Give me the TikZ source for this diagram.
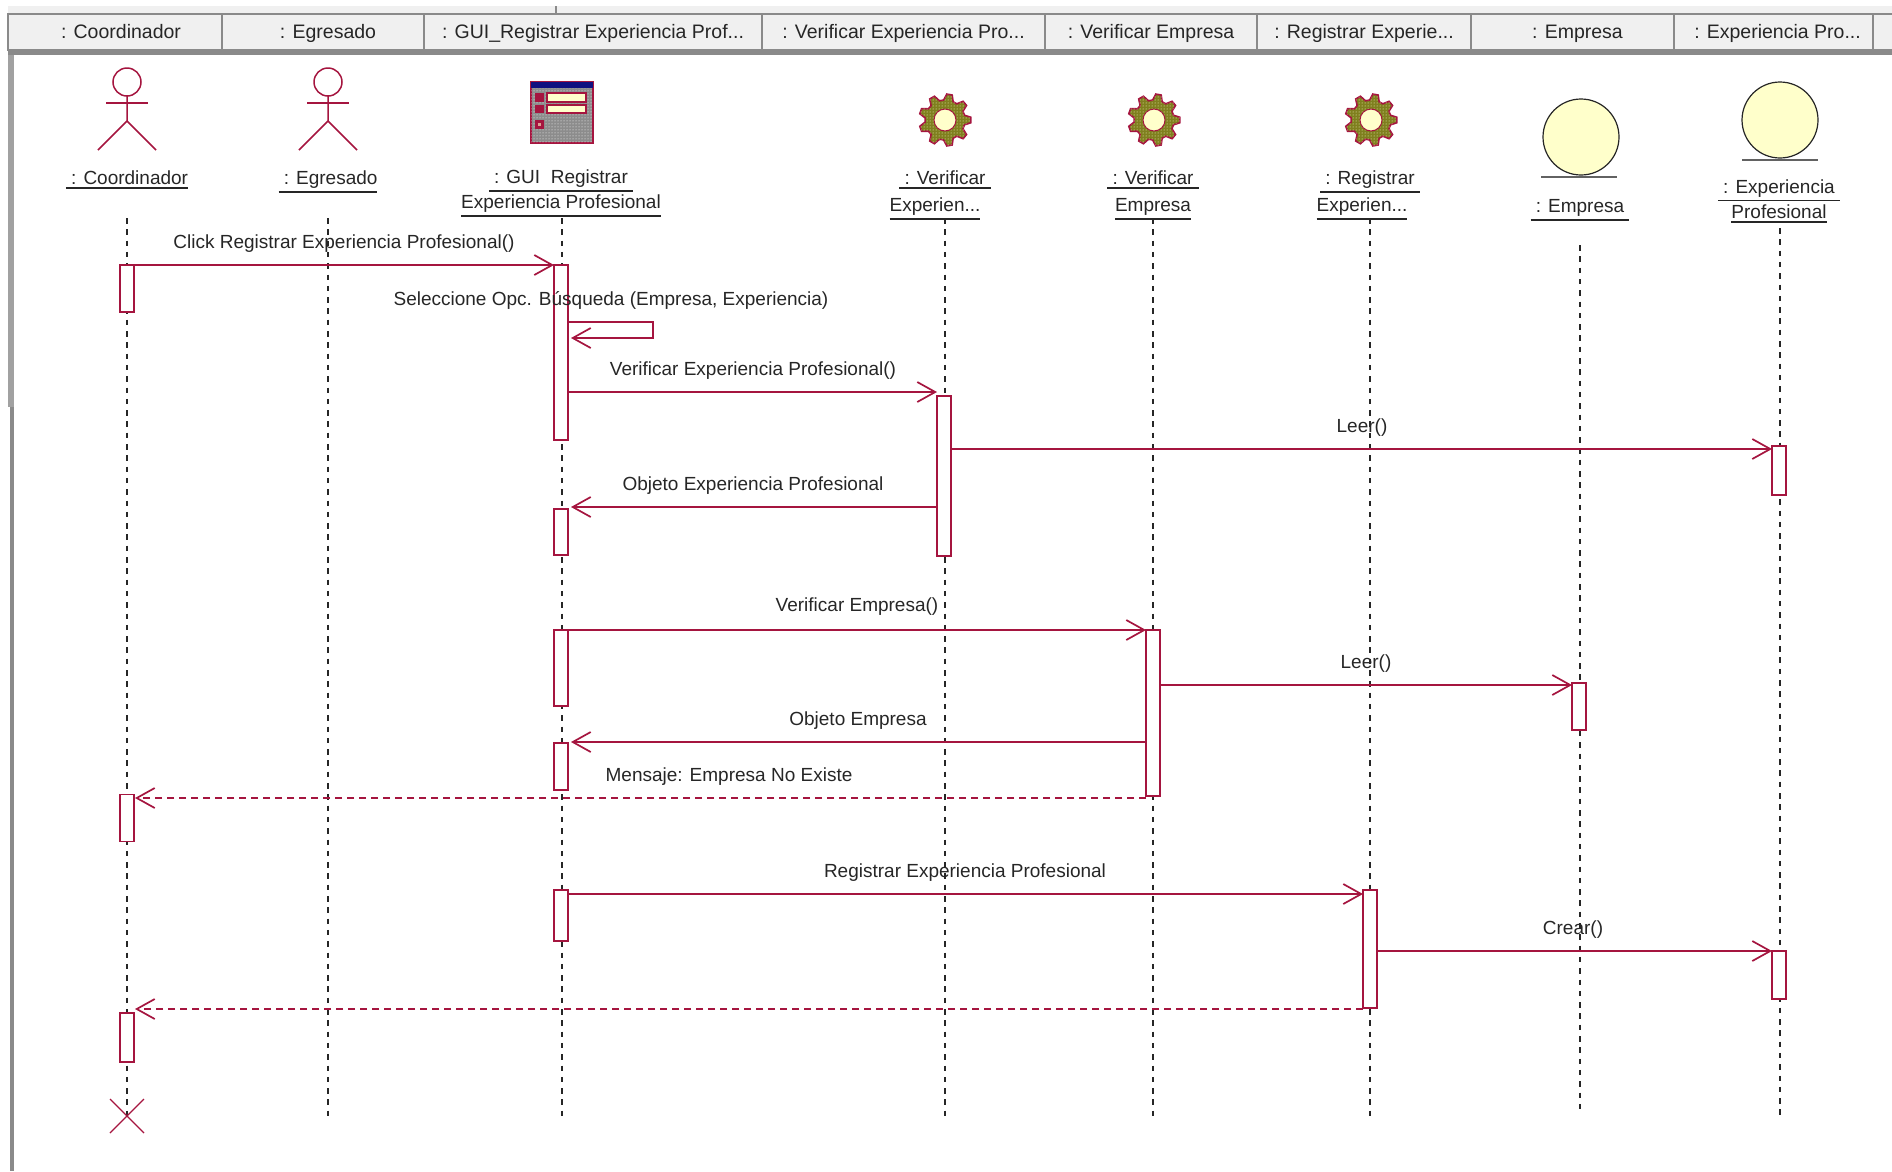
\documentclass[tikz,border=0pt]{standalone}
\usepackage{fontspec}
\setmainfont{Liberation Sans}
\usetikzlibrary{arrows.meta,patterns,shapes.geometric}
\definecolor{umlred}{HTML}{A5153F}
\definecolor{umlcream}{HTML}{FFFFCB}
\definecolor{umlink}{HTML}{262626}
\definecolor{tabgray}{HTML}{F0F0F0}
\definecolor{framegray}{HTML}{8A8A8A}
\definecolor{gearolive}{HTML}{7F7F1E}
\definecolor{guigray}{HTML}{8C8C8C}
\definecolor{guinavy}{HTML}{101080}
\newcommand{\ulabel}[1]{\leavevmode\vtop{\hbox{#1}\kern 2.5pt\hrule height 1.8pt}}
\tikzset{
gear/.pic={
\draw[umlred,line width=1.6pt,fill=gearolive,postaction={pattern=dots,pattern color=umlcream}]
  (-6:26) \foreach \a in {0,40,...,320} {-- (\a-6:26) -- (\a+6:26) -- (\a+14:20) -- (\a+26:20)} -- cycle;
\draw[umlred,line width=1pt,fill=umlcream] (0,0) circle (11);
},
actor/.pic={
\draw[umlred,line width=1.5pt] (0,0) circle (14);
\draw[umlred,line width=1.5pt] (0,14) -- (0,39) -- (-29,68);
\draw[umlred,line width=1.5pt] (0,39) -- (29,68);
\draw[umlred,line width=1.5pt] (-21,21) -- (21,21);
},
guiform/.pic={
\draw[umlred,line width=1.5pt,fill=guigray,postaction={pattern=dots,pattern color=white}] (-31,-30) rectangle (31,31);
\fill[guinavy] (-31,-30) rectangle (31,-24);
\draw[umlred,line width=1.6pt,fill=umlcream] (-15,-19) rectangle (24,-10);
\draw[umlred,line width=1.6pt,fill=umlcream] (-15,-7) rectangle (24,1);
\fill[umlred] (-27,-19) rectangle (-18,-10);
\fill[umlred] (-27,-7) rectangle (-18,1);
\fill[umlred] (-27,8) rectangle (-18,17);
\fill[umlcream!60!umlred] (-24,11) rectangle (-21,14);
}}
\begin{document}
\begin{tikzpicture}[x=1pt,y=-1pt,inner sep=0pt,outer sep=0pt,>={Straight Barb[length=18pt,width=20pt]},
tabhead/.style={draw=framegray,fill=tabgray,line width=1.4pt,minimum height=36pt,text height=15pt,text depth=3pt,font=\fontsize{19.5}{23}\selectfont,text=umlink},
objlabel/.style={align=center,font=\fontsize{19}{25}\selectfont,text=umlink},
msglabel/.style={font=\fontsize{19}{23}\selectfont,text=umlink},
lifeline/.style={umlink,line width=1.7pt,dash pattern=on 5.5pt off 5.8pt},
activation/.style={draw=umlred,fill=white,line width=1.7pt,rectangle,minimum width=14pt},
msgline/.style={umlred,line width=1.7pt,->},
retline/.style={umlred,line width=1.7pt,->,dash pattern=on 7pt off 5pt},
entity/.style={draw=umlink,fill=umlcream,line width=1.2pt,ellipse,minimum width=76pt,minimum height=76pt},
entitybar/.style={framegray!60!umlink,line width=2.4pt}]
\useasboundingbox (0,0) rectangle (1892,1171);
% window header
\fill[tabgray] (8,6) rectangle (1892,13);
\draw[framegray,line width=1.2pt] (556,6) -- (556,13);
\draw (115,32) node[tabhead,minimum width=214pt] (tabcoord) {\hspace*{12pt}: Coordinador};
\draw (323,32) node[tabhead,minimum width=202pt] (tabegre) {\hspace*{10pt}: Egresado};
\draw (593,32) node[tabhead,minimum width=338pt] (tabgui) {: GUI\_Registrar Experiencia Prof...};
\draw (903.5,32) node[tabhead,minimum width=283pt] (tabverexp) {: Verificar Experiencia Pro...};
\draw (1151,32) node[tabhead,minimum width=212pt] (tabveremp) {: Verificar Empresa};
\draw (1364,32) node[tabhead,minimum width=214pt] (tabreg) {: Registrar Experie...};
\draw (1572.5,32) node[tabhead,minimum width=203pt] (tabemp) {\hspace*{10pt}: Empresa};
\draw (1773.5,32) node[tabhead,minimum width=199pt] (tabexp) {\hspace*{8pt}: Experiencia Pro...};
\draw (1884,32) node[tabhead,minimum width=22pt] (tabrest) {};
\fill[framegray] (8,50) rectangle (1892,55);
\fill[framegray!80] (8,55) rectangle (14,407);
\fill[framegray] (10,407) rectangle (14,1171);
% lifelines
\draw[lifeline] (127,218) coordinate (coordtop) -- (127,1116) coordinate (coordend);
\draw[lifeline] (328,218) coordinate (egretop) -- (328,1116) coordinate (egreend);
\draw[lifeline] (562,218) coordinate (guitop) -- (562,1116) coordinate (guiend);
\draw[lifeline] (945,218) coordinate (verexptop) -- (945,1116) coordinate (verexpend);
\draw[lifeline] (1153,218) coordinate (veremptop) -- (1153,1116) coordinate (verempend);
\draw[lifeline] (1370,218) coordinate (regtop) -- (1370,1116) coordinate (regend);
\draw[lifeline] (1580,245) coordinate (emptop) -- (1580,1113) coordinate (empend);
\draw[lifeline] (1780,228) coordinate (exptop) -- (1780,1116) coordinate (expend);
% objects
\pic at (127,82) {actor};
\pic at (328,82) {actor};
\pic at (562,112) {guiform};
\pic at (945,120) {gear};
\pic at (1154,120) {gear};
\pic at (1371,120) {gear};
\draw (1581,137) node[entity] (empicon) {};
\draw[entitybar] (1541,177) -- (1617,177);
\draw (1780,120) node[entity] (expicon) {};
\draw[entitybar] (1742,160) -- (1818,160);
\draw (127,180) node[objlabel] (labcoord) {\ulabel{~: Coordinador}};
\draw (328,182) node[objlabel] (labegre) {\ulabel{~: Egresado}};
\draw (561,193.5) node[objlabel] (labgui) {\ulabel{~: GUI~ Registrar~}\\\ulabel{Experiencia Profesional}};
\draw (940,195) node[objlabel] (labverexp) {\hspace*{10pt}\ulabel{~: Verificar~}\\[2pt]\ulabel{Experien...}\hspace*{10pt}};
\draw (1153,195) node[objlabel] (labveremp) {\ulabel{~: Verificar~}\\[2pt]\ulabel{Empresa}};
\draw (1366,195) node[objlabel] (labreg) {\hspace*{8pt}\ulabel{~: Registrar~}\\[2pt]\ulabel{Experien...}\hspace*{8pt}};
\draw (1580,210.5) node[objlabel] (labemp) {\ulabel{~: Empresa~}};
\draw (1779,201) node[objlabel] (labexp) {\ulabel{~: Experiencia~}\\\ulabel{Profesional}};
% activations
\draw (127,288.5) node[activation,minimum height=47pt] (acoord1) {};
\draw (127,818) node[activation,minimum height=47pt] (acoord2) {};
\draw (127,1037.5) node[activation,minimum height=49pt] (acoord3) {};
\draw (561,352.5) node[activation,minimum height=175pt] (agui1) {};
\draw (561,532) node[activation,minimum height=46pt] (agui2) {};
\draw (561,668) node[activation,minimum height=76pt] (agui3) {};
\draw (561,766.5) node[activation,minimum height=47pt] (agui4) {};
\draw (561,915.5) node[activation,minimum height=51pt] (agui5) {};
\draw (944,476) node[activation,minimum height=160pt] (averexp) {};
\draw (1153,713) node[activation,minimum height=166pt] (averemp) {};
\draw (1370,949) node[activation,minimum height=118pt] (areg) {};
\draw (1779,470.5) node[activation,minimum height=49pt] (aexp1) {};
\draw (1779,975) node[activation,minimum height=48pt] (aexp2) {};
\draw (1579,706.5) node[activation,minimum height=47pt] (aemp) {};
% messages
\draw[msgline] (acoord1.north east) -- (agui1.north west);
\draw (344,243.5) node[msglabel] (msgclick) {Click Registrar Experiencia Profesional()};
\draw[umlred,line width=1.7pt,->] (agui1.east |- 0,322) -- (653,322) -- (653,338) -- ([xshift=3pt]agui1.east |- 0,338);
\draw (611,300.5) node[msglabel] (msgsel) {Seleccione Opc. Búsqueda (Empresa, Experiencia)};
\draw[msgline] (agui1.east |- 0,392) -- (averexp.north west |- 0,392);
\draw (753,370.5) node[msglabel] (msgverexp) {Verificar Experiencia Profesional()};
\draw[msgline] (averexp.east |- 0,449) -- (aexp1.west |- 0,449);
\draw (1362,427.5) node[msglabel] (msgleer1) {Leer()};
\draw[msgline] (averexp.west |- 0,507) -- ([xshift=3pt]agui2.east |- 0,507);
\draw (753,485.5) node[msglabel] (msgobjexp) {Objeto Experiencia Profesional};
\draw[msgline] (agui3.north east) -- (averemp.north west);
\draw (857,606.5) node[msglabel] (msgveremp) {Verificar Empresa()};
\draw[msgline] (averemp.east |- 0,685) -- (aemp.west |- 0,685);
\draw (1366,663.5) node[msglabel] (msgleer2) {Leer()};
\draw[msgline] (averemp.west |- 0,742) -- ([xshift=3pt]agui4.east |- 0,742);
\draw (858,720.5) node[msglabel] (msgobjemp) {Objeto Empresa};
\draw[retline] (averemp.west |- 0,798) -- ([xshift=1pt]acoord2.east |- 0,798);
\draw (729,776.5) node[msglabel] (msgnoexiste) {Mensaje: Empresa No Existe};
\draw[msgline] (agui5.east |- 0,894) -- (areg.west |- 0,894);
\draw (965,872.5) node[msglabel] (msgreg) {Registrar Experiencia Profesional};
\draw[msgline] (areg.east |- 0,951) -- (aexp2.north west);
\draw (1573,929.5) node[msglabel] (msgcrear) {Crear()};
\draw[retline] (areg.west |- 0,1009) -- ([xshift=1pt]acoord3.east |- 0,1009);
% destruction mark
\draw[umlred,line width=1.3pt] ([xshift=-17pt,yshift=17pt]coordend) -- ([xshift=17pt,yshift=-17pt]coordend);
\draw[umlred,line width=1.3pt] ([xshift=-17pt,yshift=-17pt]coordend) -- ([xshift=17pt,yshift=17pt]coordend);
\end{tikzpicture}
\end{document}
